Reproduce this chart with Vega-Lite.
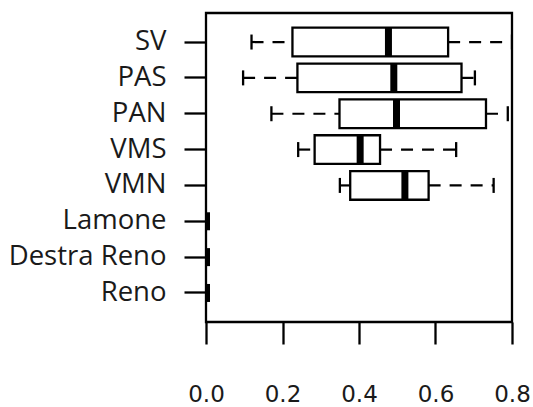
{
  "$schema": "https://vega.github.io/schema/vega-lite/v6.json",
  "autosize": "none",
  "width": 306,
  "height": 309,
  "padding": {"left": 206, "top": 13, "right": 21, "bottom": 85},
  "background": "white",
  "config": {
    "view": {"stroke": "black", "strokeWidth": 2.3},
    "axis": {"grid": false, "domain": false, "tickColor": "black", "tickWidth": 2.3, "tickSize": 22, "labelColor": "#1a1a1a", "title": null}
  },
  "data": {
    "values": [
      {"site": "SV", "lo": 0.119, "q1": 0.226, "median": 0.477, "q3": 0.633, "hi": 0.8},
      {"site": "PAS", "lo": 0.097, "q1": 0.239, "median": 0.491, "q3": 0.668, "hi": 0.703},
      {"site": "PAN", "lo": 0.171, "q1": 0.349, "median": 0.498, "q3": 0.732, "hi": 0.789},
      {"site": "VMS", "lo": 0.241, "q1": 0.284, "median": 0.403, "q3": 0.455, "hi": 0.654},
      {"site": "VMN", "lo": 0.35, "q1": 0.377, "median": 0.52, "q3": 0.582, "hi": 0.752},
      {"site": "Lamone", "lo": 0, "q1": 0, "median": 0, "q3": 0, "hi": 0},
      {"site": "Destra Reno", "lo": 0, "q1": 0, "median": 0, "q3": 0, "hi": 0},
      {"site": "Reno", "lo": 0, "q1": 0, "median": 0, "q3": 0, "hi": 0}
    ]
  },
  "encoding": {
    "y": {
      "field": "site", "type": "nominal",
      "scale": {"type": "band", "domain": ["SV", "PAS", "PAN", "VMS", "VMN", "Lamone", "Destra Reno", "Reno"], "paddingInner": 0.2, "paddingOuter": 0.41},
      "axis": {"labelFont": "Open Sans", "labelFontSize": 27.5, "labelPadding": 18}
    }
  },
  "layer": [
    {
      "transform": [{"filter": "datum.q3 > 0"}],
      "mark": {"type": "rule", "stroke": "black", "strokeWidth": 2.2, "strokeDash": [12, 9]},
      "encoding": {
        "x": {"field": "lo", "type": "quantitative", "scale": {"domain": [0, 0.8], "nice": false, "zero": false},
          "axis": {"values": [0, 0.2, 0.4, 0.6, 0.8], "format": ".1f", "labelFont": "DejaVu Sans", "labelFontSize": 23, "labelPadding": 39, "labelFlush": false}},
        "x2": {"field": "q1"}
      }
    },
    {
      "transform": [{"filter": "datum.q3 > 0"}],
      "mark": {"type": "rule", "stroke": "black", "strokeWidth": 2.2, "strokeDash": [12, 9]},
      "encoding": {
        "x": {"field": "q3", "type": "quantitative"},
        "x2": {"field": "hi"}
      }
    },
    {
      "transform": [{"filter": "datum.q3 > 0"}],
      "mark": {"type": "tick", "color": "black", "orient": "vertical", "size": 15, "thickness": 2.3, "opacity": 1},
      "encoding": {"x": {"field": "lo", "type": "quantitative"}}
    },
    {
      "transform": [{"filter": "datum.q3 > 0"}],
      "mark": {"type": "tick", "color": "black", "orient": "vertical", "size": 15, "thickness": 2.3, "opacity": 1, "clip": true},
      "encoding": {"x": {"field": "hi", "type": "quantitative"}}
    },
    {
      "transform": [{"filter": "datum.q3 > 0"}],
      "mark": {"type": "bar", "fill": "white", "stroke": "black", "strokeWidth": 2.3},
      "encoding": {
        "x": {"field": "q1", "type": "quantitative"},
        "x2": {"field": "q3"}
      }
    },
    {
      "transform": [{"filter": "datum.q3 > 0"}],
      "mark": {"type": "tick", "color": "black", "orient": "vertical", "size": 29, "thickness": 7, "opacity": 1},
      "encoding": {"x": {"field": "median", "type": "quantitative"}}
    },
    {
      "transform": [{"filter": "datum.q3 == 0"}],
      "mark": {"type": "tick", "color": "black", "orient": "vertical", "size": 18, "thickness": 8, "opacity": 1, "clip": true},
      "encoding": {"x": {"field": "median", "type": "quantitative"}}
    }
  ]
}
